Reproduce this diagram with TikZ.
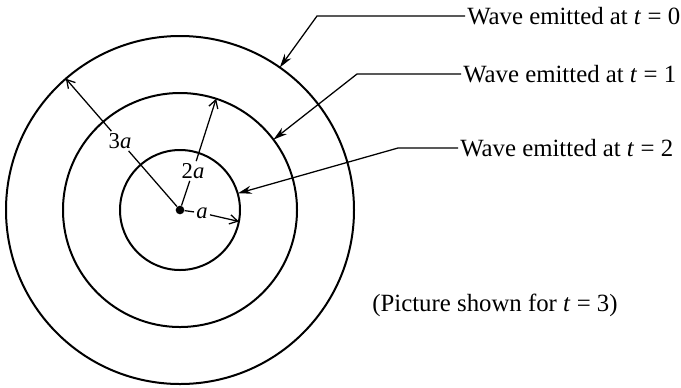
\documentclass[tikz,border=0pt]{standalone}
\usepackage{fontspec}
\setmainfont{Liberation Serif}
\usetikzlibrary{arrows.meta}
\begin{document}
\begin{tikzpicture}[x=0.75pt,y=-0.75pt,
  wave/.style={circle,draw,line width=1.5pt,inner sep=0pt,outer sep=0pt},
  conn/.style={line width=0.95pt},
  callout/.style={conn,-{Stealth[length=10.5pt,width=6pt]}},
  dim/.style={conn,-{Straight Barb[length=6pt,width=7pt]}},
  lbl/.style={font=\fontsize{18.6}{22}\selectfont,inner sep=1.5pt,anchor=west},
  dimlbl/.style={font=\fontsize{17}{20}\selectfont,inner sep=1.5pt}]
\useasboundingbox (0,0) rectangle (681,387);
\coordinate (C) at (180,210);
\node[wave,minimum size=348*0.75pt] (c3) at (C) {};
\node[wave,minimum size=234*0.75pt] (c2) at (C) {};
\node[wave,minimum size=120*0.75pt] (c1) at (C) {};
\node[circle,fill,inner sep=0pt,minimum size=6.5pt] (dot) at (C) {};
% dimension labels
\node[dimlbl] (l3) at (120,141) {3\textit{a}};
\node[dimlbl] (l2) at (193,171) {2\textit{a}};
\node[dimlbl] (l1) at (202,213) {\textit{a}};
\draw[conn] (dot) -- (l3);
\draw[dim] (l3) -- (c3.131.8);
\draw[conn] (dot) -- (l2);
\draw[dim] (l2) -- (c2.72.8);
\draw[conn] (dot) -- (l1);
\draw[dim] (l1) -- (c1.-11.3);
% callouts
\node[lbl] (w0) at (465,16) {Wave emitted at \textit{t} = 0};
\node[lbl] (w1) at (461,74) {Wave emitted at \textit{t} = 1};
\node[lbl] (w2) at (458,148) {Wave emitted at \textit{t} = 2};
\coordinate (k0) at (317,16);
\coordinate (k1) at (357,74);
\coordinate (k2) at (398,148);
\draw[callout] (w0.west) -- (k0) -- (c3.55.1);
\draw[callout] (w1.west) -- (k1) -- (c2.37.9);
\draw[callout] (w2.west) -- (k2) -- (c1.16.5);
\node[font=\fontsize{18.6}{22}\selectfont,inner sep=0pt] (note) at (495,305) {(Picture shown for \textit{t} = 3)};
\end{tikzpicture}
\end{document}
